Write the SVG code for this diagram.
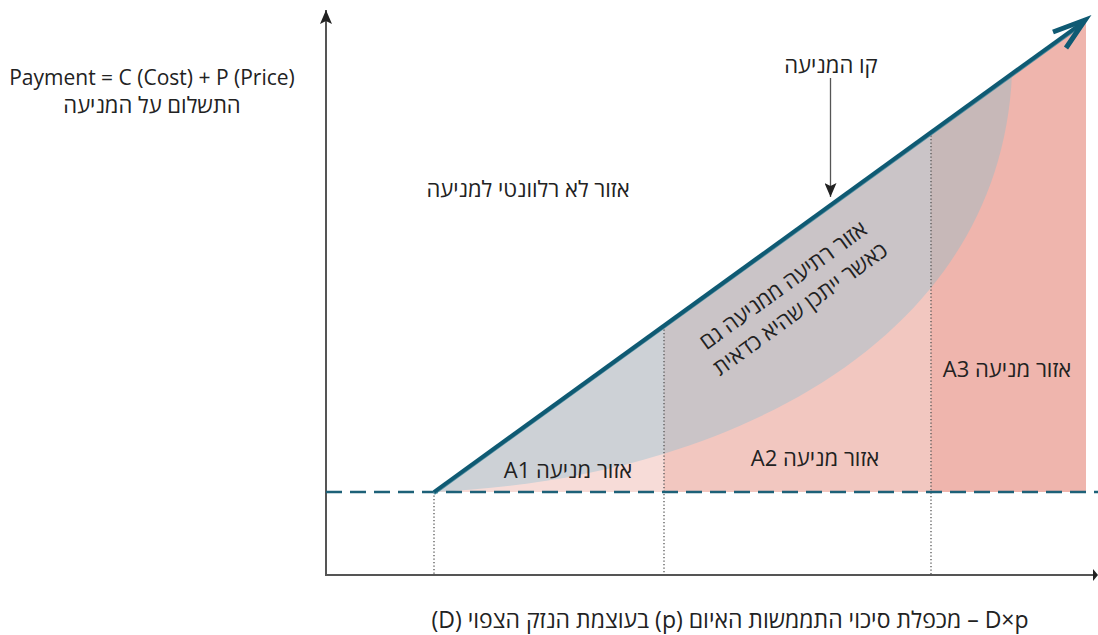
<svg xmlns="http://www.w3.org/2000/svg" width="1098" height="635" viewBox="0 0 1098 635">
<style>
.t{font-family:"Open Sans","Noto Sans","DejaVu Sans",sans-serif;font-size:22px;font-weight:500;fill:#222;}
.en{font-size:21px;}
.rtl{direction:rtl;unicode-bidi:embed;}
.axis{stroke:#555;stroke-width:2;fill:none;}
.dot{stroke:#555;stroke-width:1.3;stroke-dasharray:1.3 2.2;fill:none;}
</style>
<defs>
<marker id="ah" markerWidth="14" markerHeight="12" refX="14" refY="6" orient="auto" markerUnits="userSpaceOnUse" viewBox="0 0 14 12">
<path d="M0,0 L14,6 L0,12 L3,6 Z" fill="#222"/>
</marker>
<path id="lens" d="M434,492 L1012,74 C1000,345 720,480 434,492 Z"/>
<clipPath id="c1"><rect x="420" y="0" width="244" height="500"/></clipPath>
<clipPath id="c2"><rect x="664" y="0" width="267" height="500"/></clipPath>
<clipPath id="c3"><rect x="931" y="0" width="167" height="500"/></clipPath>
</defs>
<rect width="1098" height="635" fill="#fff"/>

<g id="regions">
<polygon points="434,492 664,325.5 664,492" fill="#f7dcd8"/>
<polygon points="664,325.5 931,132 931,492 664,492" fill="#f2c7c0"/>
<polygon points="931,132 1086,20 1086,492 931,492" fill="#efb5ad"/>
<use href="#lens" fill="#cdd1d6" clip-path="url(#c1)"/>
<use href="#lens" fill="#cac4c7" clip-path="url(#c2)"/>
<use href="#lens" fill="#c7b8b8" clip-path="url(#c3)"/>
</g>

<g id="axes">
<line class="axis" x1="326" y1="575" x2="326" y2="10" marker-end="url(#ah)"/>
<line class="axis" x1="325" y1="575" x2="1095" y2="575"/>
<path d="M1093,569 L1098,575 L1093,581 Z" fill="#222"/>
</g>

<g id="connectors">
<line class="dot" x1="434" y1="492" x2="434" y2="575"/>
<line class="dot" x1="664" y1="326" x2="664" y2="575"/>
<line class="dot" x1="931" y1="132" x2="931" y2="575"/>
<line x1="326" y1="492" x2="1098" y2="492" stroke="#1d6178" stroke-width="2.4" stroke-dasharray="16 8"/>
<line x1="434" y1="493.5" x2="1080" y2="26" stroke="#4f8ea0" stroke-width="3"/>
<line x1="434" y1="492" x2="1082" y2="23" stroke="#0f5a73" stroke-width="4"/>
<polyline points="1053,32 1085,20 1066,48" fill="none" stroke="#0f5a73" stroke-width="5" stroke-linejoin="miter" stroke-miterlimit="10"/>
<line x1="830.5" y1="78" x2="830.5" y2="197" stroke="#555" stroke-width="1.3" marker-end="url(#ah)"/>
</g>

<g id="label-y">
<text class="t en" x="152" y="85" text-anchor="middle">Payment = C (Cost) + P (Price)</text>
<text class="t rtl" x="152" y="113" text-anchor="middle">התשלום על המניעה</text>
</g>
<g id="label-line"><text class="t rtl" x="831" y="73" text-anchor="middle">קו המניעה</text></g>
<g id="label-irrelevant"><text class="t rtl" x="528" y="197" text-anchor="middle">אזור לא רלוונטי למניעה</text></g>
<g id="label-deter" transform="translate(783,285) rotate(-36)">
<text class="t rtl" x="0" y="8" text-anchor="middle">אזור רתיעה ממניעה גם</text>
<text class="t rtl" x="0" y="37" text-anchor="middle">כאשר ייתכן שהיא כדאית</text>
</g>
<g id="label-a1"><text class="t rtl" x="568" y="478" text-anchor="middle">אזור מניעה A1</text></g>
<g id="label-a2"><text class="t rtl" x="815" y="466" text-anchor="middle">אזור מניעה A2</text></g>
<g id="label-a3"><text class="t rtl" x="1007" y="377" text-anchor="middle">אזור מניעה A3</text></g>
<g id="label-x"><text class="t rtl" x="730" y="628" text-anchor="middle" style="font-size:23px">D×p – מכפלת סיכוי התממשות האיום (p) בעוצמת הנזק הצפוי (D)</text></g>
</svg>
